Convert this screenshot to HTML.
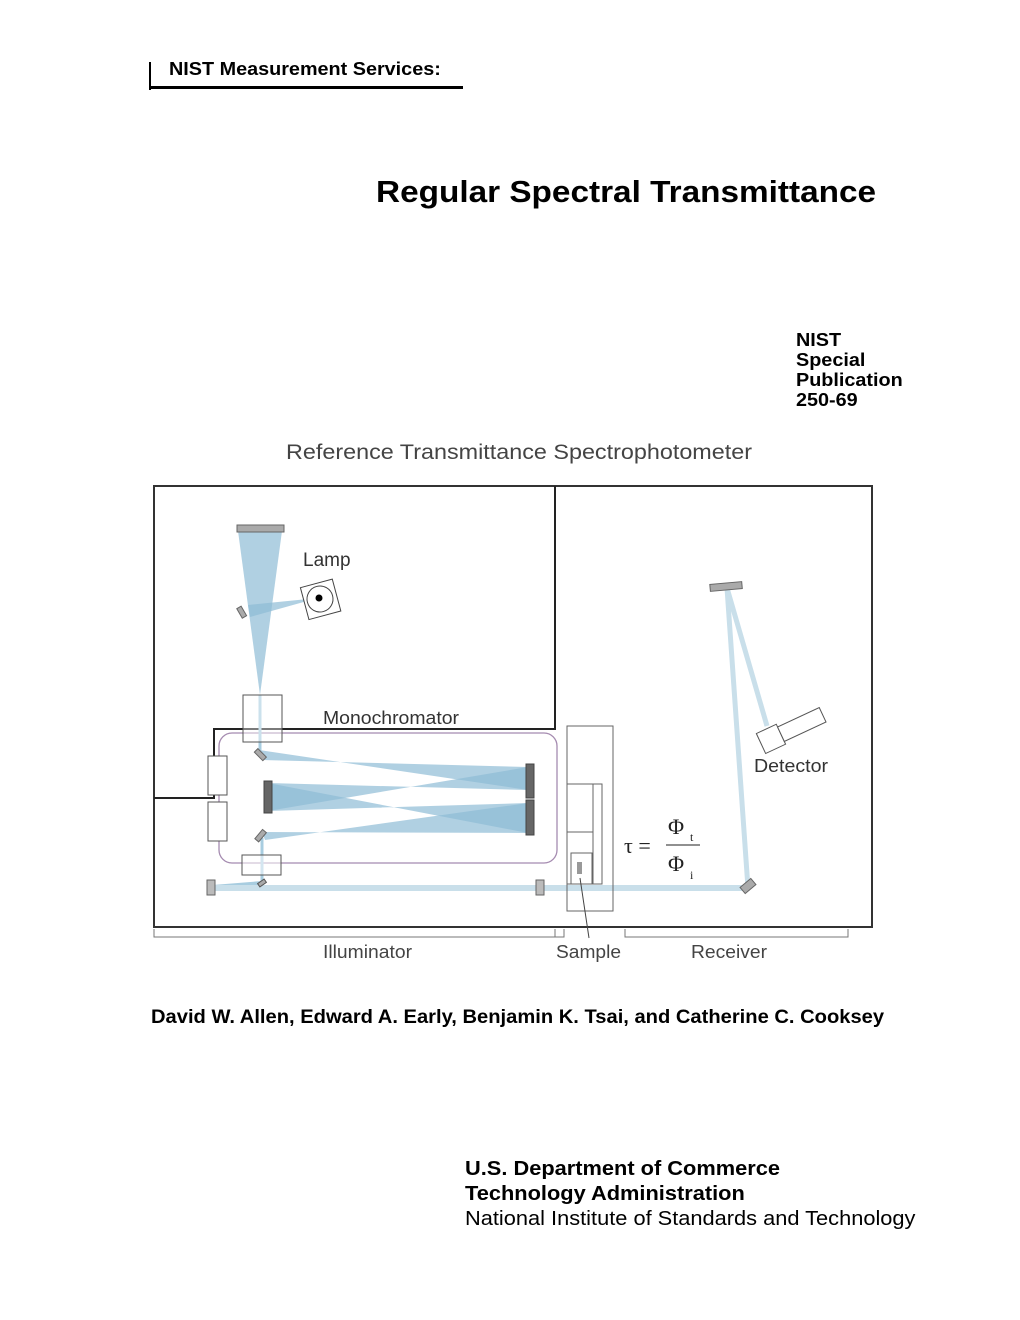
<!DOCTYPE html>
<html><head><meta charset="utf-8"><style>
body{margin:0;width:1020px;height:1320px;background:#fff;position:relative;font-family:"Liberation Sans",Arial,sans-serif;overflow:hidden}
.a{position:absolute;white-space:nowrap;transform-origin:0 0}
</style></head><body>
<div class="a" style="left:149px;top:62px;width:2px;height:28px;background:#000"></div>
<div class="a" style="left:149px;top:86px;width:314px;height:3px;background:#000"></div>
<div class="a" style="left:169px;top:59px;font-size:18px;font-weight:bold;transform:scaleX(1.1)">NIST Measurement Services:</div>
<div class="a" style="left:376px;top:174px;font-size:31px;font-weight:bold;transform:scaleX(1.075)">Regular Spectral Transmittance</div>
<div class="a" style="left:796px;top:330px;font-size:18px;font-weight:bold;line-height:20px;transform:scaleX(1.1)">NIST<br>Special<br>Publication<br>250-69</div>
<svg class="a" style="left:0;top:0" width="1020" height="1000" font-family="Liberation Sans, Arial, sans-serif">
<text x="286" y="459" font-size="21" fill="#444" textLength="466" lengthAdjust="spacingAndGlyphs">Reference Transmittance Spectrophotometer</text>
<rect x="154" y="486" width="718" height="441" fill="none" stroke="#333" stroke-width="2"/>
<polyline points="555,486 555,729 214,729 214,798 154,798" fill="none" stroke="#222" stroke-width="2"/>
<rect x="219" y="733" width="338" height="130" rx="13" fill="none" stroke="#a58bb0" stroke-width="1.3"/>
<g fill="#8fbcd6" fill-opacity="0.7">
<polygon points="238,531 282,531 260,695"/>
<polygon points="248,605 250,617 318,598"/>
<polygon points="259,750 262,760 528,767 528,790"/>
<polygon points="268,783 268,811 528,767 528,790"/>
<polygon points="268,783 268,811 528,803 528,833"/>
<polygon points="262,832 265,840 528,803 528,833"/>
</g>
<line x1="260" y1="695" x2="260" y2="752" stroke="#a8cde0" stroke-width="3"/>
<line x1="262" y1="838" x2="262" y2="882" stroke="#a8cde0" stroke-width="3"/>
<line x1="262" y1="883" x2="213" y2="887" stroke="#a8cde0" stroke-width="4"/>
<line x1="213" y1="888" x2="748" y2="888" stroke="#c9dfea" stroke-width="6"/>
<polyline points="748,888 727,588 767,726" fill="none" stroke="#c9dfea" stroke-width="5"/>
<rect x="237" y="525" width="47" height="7" fill="#aaa" stroke="#666"/>
<rect x="236" y="609" width="11" height="5" fill="#aaa" stroke="#666" transform="rotate(60 241 612)"/>
<g transform="rotate(-15 320 599)"><rect x="304" y="583" width="33" height="33" fill="#fff" stroke="#444"/><circle cx="320" cy="599" r="13" fill="none" stroke="#444"/></g>
<circle cx="319" cy="598" r="3.5" fill="#000"/>
<rect x="243" y="695" width="39" height="47" fill="#fff" fill-opacity="0.4" stroke="#555"/>
<rect x="208" y="756" width="19" height="39" fill="#fff" stroke="#555"/>
<rect x="208" y="802" width="19" height="39" fill="#fff" stroke="#555"/>
<rect x="254" y="752" width="12" height="5" fill="#aaa" stroke="#666" transform="rotate(45 260 755)"/>
<rect x="255" y="833" width="12" height="5" fill="#aaa" stroke="#666" transform="rotate(-50 261 836)"/>
<rect x="264" y="781" width="8" height="32" fill="#666" stroke="#444"/>
<rect x="526" y="764" width="8" height="34" fill="#666" stroke="#444"/>
<rect x="526" y="800" width="8" height="35" fill="#666" stroke="#444"/>
<rect x="242" y="855" width="39" height="20" fill="#fff" fill-opacity="0.5" stroke="#555"/>
<rect x="258" y="881" width="8" height="4" fill="#aaa" stroke="#555" transform="rotate(-35 262 883)"/>
<rect x="207" y="880" width="8" height="15" fill="#bbb" stroke="#666"/>
<rect x="536" y="880" width="8" height="15" fill="#bbb" stroke="#666"/>
<rect x="567" y="726" width="46" height="185" fill="none" stroke="#666"/>
<rect x="567" y="784" width="35" height="100" fill="none" stroke="#666"/>
<line x1="567" y1="832" x2="593" y2="832" stroke="#666"/>
<line x1="593" y1="784" x2="593" y2="884" stroke="#666"/>
<rect x="571" y="853" width="21" height="31" fill="none" stroke="#666"/>
<rect x="577" y="862" width="5" height="12" fill="#999"/>
<line x1="580" y1="878" x2="589" y2="938" stroke="#444"/>
<rect x="710" y="583" width="32" height="7" fill="#aaa" stroke="#666" transform="rotate(-5 726 586)"/>
<rect x="741" y="882" width="14" height="8" fill="#aaa" stroke="#666" transform="rotate(-40 748 886)"/>
<g transform="rotate(-25 790 730)"><rect x="758" y="719" width="22" height="22" fill="#fff" stroke="#555"/><rect x="780" y="722" width="46" height="16" fill="#fff" stroke="#555"/></g>
<text x="303" y="566" font-size="19" fill="#333">Lamp</text>
<text x="323" y="724" font-size="18" fill="#333" textLength="136" lengthAdjust="spacingAndGlyphs">Monochromator</text>
<text x="754" y="772" font-size="18" fill="#333" textLength="74" lengthAdjust="spacingAndGlyphs">Detector</text>
<text x="624" y="853" font-size="22" font-family="Liberation Serif, serif" fill="#222">τ =</text>
<text x="668" y="834" font-size="22" font-family="Liberation Serif, serif" fill="#222">Φ</text><text x="690" y="841" font-size="12" font-family="Liberation Serif, serif" fill="#222">t</text>
<line x1="666" y1="845" x2="700" y2="845" stroke="#222"/>
<text x="668" y="871" font-size="22" font-family="Liberation Serif, serif" fill="#222">Φ</text><text x="690" y="879" font-size="12" font-family="Liberation Serif, serif" fill="#222">i</text>
<polyline points="154,929 154,937 555,937 555,929" fill="none" stroke="#777"/>
<polyline points="564,929 564,937 555,937" fill="none" stroke="#777"/>
<polyline points="625,929 625,937 848,937 848,929" fill="none" stroke="#777"/>
<text x="323" y="958" font-size="18" fill="#444" textLength="89" lengthAdjust="spacingAndGlyphs">Illuminator</text>
<text x="556" y="958" font-size="18" fill="#444" textLength="65" lengthAdjust="spacingAndGlyphs">Sample</text>
<text x="691" y="958" font-size="18" fill="#444" textLength="76" lengthAdjust="spacingAndGlyphs">Receiver</text>
</svg>
<div class="a" style="left:151px;top:1007px;font-size:19px;font-weight:bold;transform:scaleX(1.06)">David W. Allen, Edward A. Early, Benjamin K. Tsai, and Catherine C. Cooksey</div>
<div class="a" style="left:465px;top:1157px;font-size:20px;line-height:25px;transform:scaleX(1.09)"><b>U.S. Department of Commerce<br>Technology Administration</b><br>National Institute of Standards and Technology</div>
</body></html>
